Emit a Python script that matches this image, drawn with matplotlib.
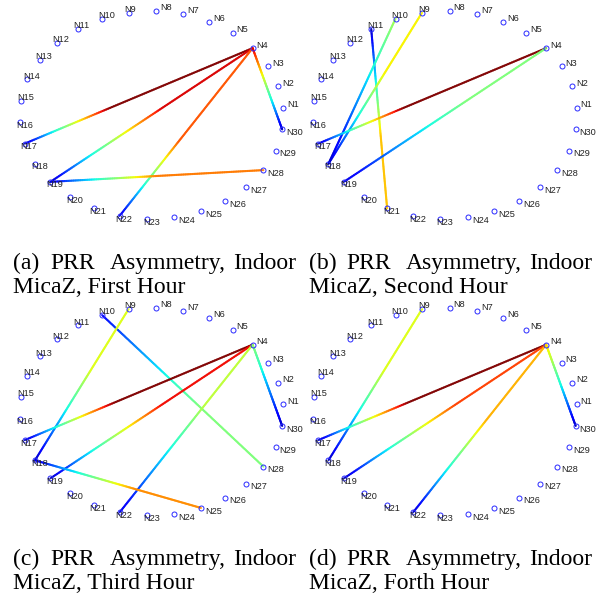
import numpy as np
import matplotlib
matplotlib.use("Agg")
import matplotlib.pyplot as plt
from matplotlib.collections import LineCollection

# node ids on the ring
nodes = list(range(1, 31))
node_labels = ["N%d" % k for k in nodes]

# links: (blue end, other end, colour at blue end, colour reached, fraction where reached)
links_a = [(17, 4, 0.05, 1.00, 0.38),
           (19, 4, 0.05, 0.92, 0.55),
           (22, 4, 0.08, 0.82, 0.45),
           (30, 4, 0.05, 0.92, 1.00),
           (19, 28, 0.08, 0.78, 0.50)]
links_b = [(11, 21, 0.05, 0.70, 0.60),
           (18, 10, 0.05, 0.55, 1.00),
           (18, 9, 0.05, 0.65, 0.60),
           (17, 4, 0.05, 1.00, 0.38),
           (19, 4, 0.08, 0.50, 0.60)]
links_c = [(10, 28, 0.12, 0.50, 0.60),
           (18, 9, 0.05, 0.62, 0.60),
           (17, 4, 0.05, 1.00, 0.40),
           (19, 4, 0.05, 0.90, 0.55),
           (22, 4, 0.08, 0.58, 0.65),
           (30, 4, 0.05, 0.52, 1.00),
           (18, 25, 0.08, 0.76, 0.60)]
links_d = [(18, 9, 0.05, 0.62, 0.60),
           (17, 4, 0.05, 1.00, 0.40),
           (19, 4, 0.05, 0.84, 0.55),
           (22, 4, 0.06, 0.72, 0.55),
           (30, 4, 0.05, 0.68, 1.00)]

caption_tags = ["(a)", "(b)", "(c)", "(d)"]
caption_hours = ["First Hour", "Second Hour", "Third Hour", "Forth Hour"]

W, H = 604, 595
RX, RY = 132, 104
LIM = 1.12


def node_xy(k):
    ang = np.deg2rad(4 + 12 * (k - 1))
    return np.cos(ang), np.sin(ang)


def gradient_link(ax, a, b, lo, hi, knee, n=120):
    x0, y0 = node_xy(a)
    x1, y1 = node_xy(b)
    t = np.linspace(0, 1, n + 1)
    xs = x0 + (x1 - x0) * t
    ys = y0 + (y1 - y0) * t
    pts = np.column_stack([xs, ys]).reshape(-1, 1, 2)
    segs = np.concatenate([pts[:-1], pts[1:]], axis=1)
    tm = (t[:-1] + t[1:]) / 2
    vals = np.minimum(lo + (hi - lo) * tm / knee, hi)
    lc = LineCollection(segs, cmap="jet", norm=plt.Normalize(0, 1),
                        linewidths=1.5, capstyle="round", alpha=0.88)
    lc.set_array(vals)
    ax.add_collection(lc)


def draw_panel(fig, cx, cy, links):
    w = 2 * LIM * RX
    h = 2 * LIM * RY
    ax = fig.add_axes([(cx - w / 2) / W, 1 - (cy + h / 2) / H, w / W, h / H])
    ax.set_xlim(-LIM, LIM)
    ax.set_ylim(-LIM, LIM)
    ax.axis("off")
    for a, b, lo, hi, knee in links:
        gradient_link(ax, a, b, lo, hi, knee)
    xy = np.array([node_xy(k) for k in nodes])
    ax.plot(xy[:, 0], xy[:, 1], "o", mfc="none", mec="#2a2aff",
            ms=3.6, mew=0.7, zorder=3)
    for k, lab in zip(nodes, node_labels):
        x, y = node_xy(k)
        ax.text(x + 0.03 * np.sign(x), y + 0.03 * np.sign(y), lab,
                fontsize=6.6, family="Liberation Sans", color="#222222",
                ha="left", va="center", zorder=4)


def draw_caption(fig, x, y, tag, hour):
    words = [tag, "PRR", "Asymmetry,", "Indoor"]
    offs = [0, 37, 97, 220]
    for wd, o in zip(words, offs):
        fig.text((x + o) / W, 1 - y / H, wd, fontsize=17,
                 family="Liberation Serif", va="baseline", ha="left")
    fig.text(x / W, 1 - (y + 24) / H, "MicaZ, " + hour, fontsize=17,
             family="Liberation Serif", va="baseline", ha="left")


fig = plt.figure(figsize=(W / 100, H / 100), dpi=100)

centers = [(151.5, 115), (445, 115), (151.5, 411.5), (445, 411.5)]
all_links = [links_a, links_b, links_c, links_d]
for (cx, cy), links in zip(centers, all_links):
    draw_panel(fig, cx, cy, links)

cap_pos = [(13, 269), (309, 269), (13, 565), (309, 565)]
for (x, y), tag, hour in zip(cap_pos, caption_tags, caption_hours):
    draw_caption(fig, x, y, tag, hour)

fig.savefig("out.png", dpi=100)
